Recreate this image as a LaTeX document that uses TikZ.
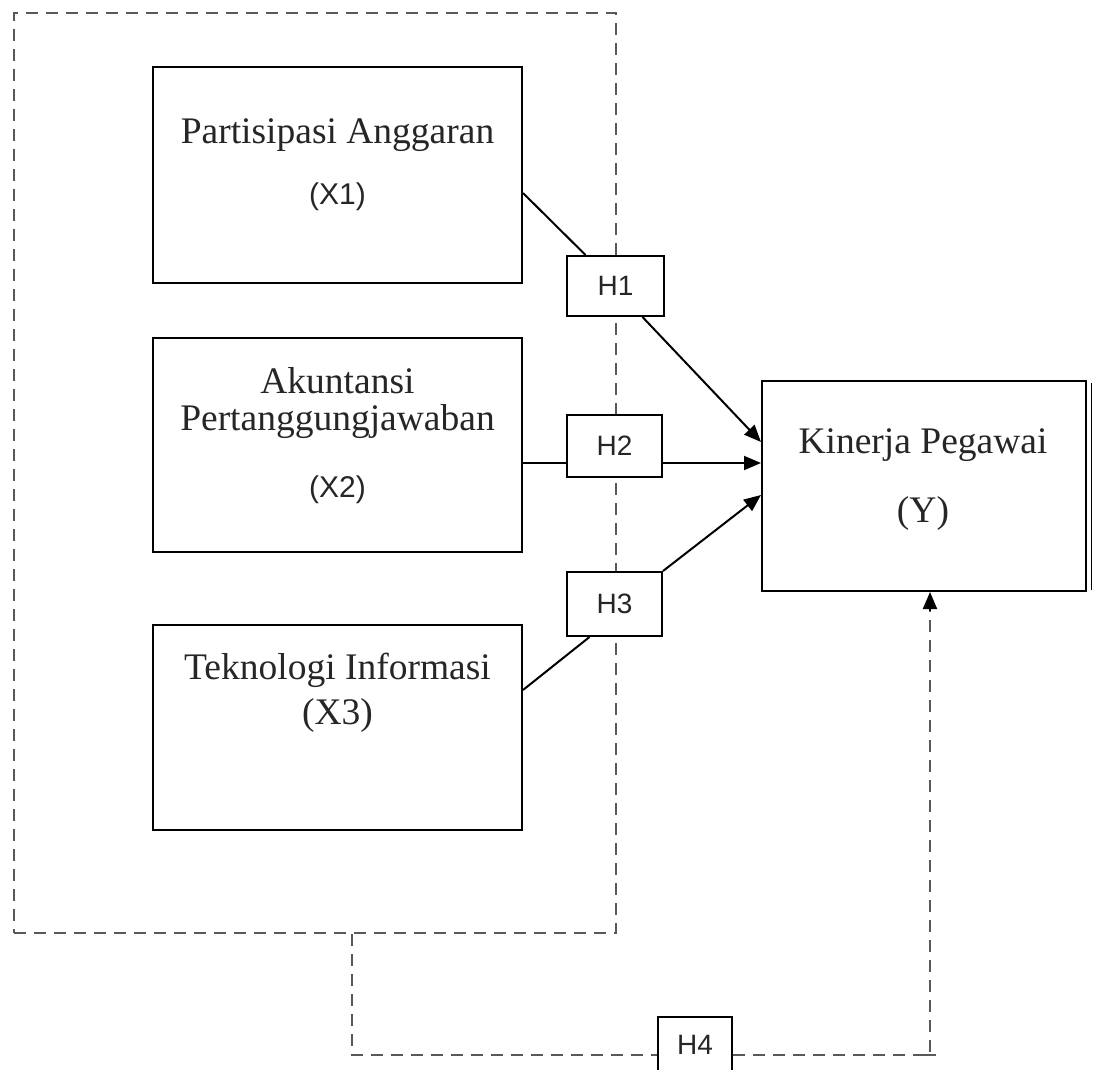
\documentclass[tikz,border=0pt]{standalone}
\usepackage{fontspec}
\setmainfont{Liberation Serif}
\newfontfamily\arialf{Liberation Sans}
\usetikzlibrary{arrows.meta,calc}
\begin{document}
\begin{tikzpicture}[x=1pt,y=-1pt,
  bx/.style={draw=black, line width=2pt, fill=white, inner sep=0pt},
  hbox/.style={bx},
  sertxt/.style={font=\fontsize{37.5}{37}\selectfont, text=black!85, inner sep=0pt, align=center},
  santxt/.style={font=\arialf\fontsize{30}{34}\selectfont, text=black!85, inner sep=0pt},
  htxt/.style={font=\arialf\fontsize{28}{32}\selectfont, text=black!85},
  dashline/.style={draw=black!65, line width=2pt, dash pattern=on 12pt off 8pt},
  conn/.style={draw=black, line width=2pt},
  arr/.style={-{Triangle[length=17pt,width=14pt]}}
]
\useasboundingbox (0,0) rectangle (1093,1070);

% group box
\node[dashline, minimum width=602pt, minimum height=920pt, inner sep=0pt] (grp) at (315,473) {};

% variable boxes
\node[bx, minimum width=369pt, minimum height=216pt] (x1) at (337.5,175) {};
\node[bx, minimum width=369pt, minimum height=214pt] (x2) at (337.5,445) {};
\node[bx, minimum width=369pt, minimum height=205pt] (x3) at (337.5,727.5) {};
\node[bx, minimum width=324pt, minimum height=210pt] (y) at (924,486) {};
\draw[line width=1.3pt] ([xshift=4.5pt,yshift=-3pt]y.north east) -- ([xshift=4.5pt,yshift=2pt]y.south east);

% texts
\node[sertxt] (x1a) at (337.5,135) {Partisipasi Anggaran};
\node[santxt] (x1b) at (337.5,197) {(X1)};
\node[sertxt] (x2a) at (337.5,403) {Akuntansi\\Pertanggungjawaban};
\node[santxt] (x2c) at (337.5,490) {(X2)};
\node[sertxt] (x3a) at (337.5,693) {Teknologi Informasi\\[8pt](X3)};
\node[sertxt] (ya) at (923,445) {Kinerja Pegawai};
\node[sertxt] (yb) at (923,513) {(Y)};

% hypothesis boxes
\node[hbox, minimum width=97pt, minimum height=60pt, htxt] (h1) at (615.5,286) {H1};
\node[hbox, minimum width=95pt, minimum height=62pt, htxt] (h2) at (614.5,446) {H2};
\node[hbox, minimum width=95pt, minimum height=64pt, htxt] (h3) at (614.5,604) {H3};
\node[hbox, minimum width=74pt, minimum height=56pt, htxt] (h4) at (695,1045) {H4};

% connectors
\draw[conn] ([yshift=-18pt]x1.east) -- ([xshift=-30pt]h1.north);
\draw[conn,arr] ([xshift=27pt]h1.south) -- ([yshift=44pt]y.west);
\draw[conn] ([yshift=-18pt]x2.east) -- ([yshift=-17pt]h2.west);
\draw[conn,arr] ([yshift=-17pt]h2.east) -- ([yshift=23pt]y.west);
\draw[conn] ([yshift=37.5pt]x3.east) -- ([xshift=-25pt]h3.south);
\draw[conn,arr] (h3.north east) -- ([yshift=-9pt]y.west);

% H4 path
\coordinate (c1) at (352,1055);
\coordinate (c2) at (930,1055);
\draw[dashline] ([xshift=37pt]grp.south) -- (c1) -- (c1 -| h4.west);
\draw[dashline] (c1 -| h4.east) -- (c2) -- ([xshift=6pt,yshift=-18pt]y.south);
\draw[draw=black!65, line width=2pt] ([xshift=-6pt]c2) -- ([xshift=6pt]c2);
\draw[conn,arr] ([xshift=6pt,yshift=-19pt]y.south) -- ([xshift=6pt]y.south);
\end{tikzpicture}
\end{document}
